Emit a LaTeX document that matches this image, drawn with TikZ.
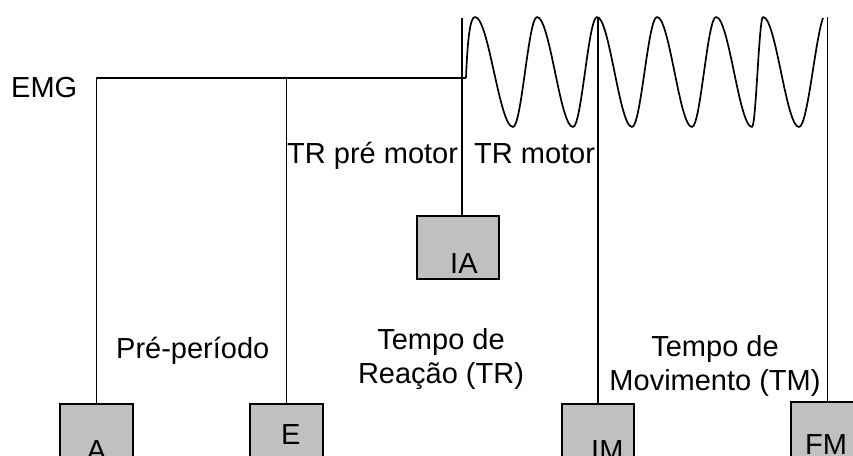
\documentclass[tikz,border=0pt]{standalone}
\usepackage{fontspec}
\setmainfont{Liberation Sans}
\definecolor{boxgray}{HTML}{C0C0C0}
\begin{document}
\begin{tikzpicture}[x=1pt,y=-1pt,
  ln/.style={line width=1.7pt, line join=round},
  box/.style={draw, line width=1.7pt, fill=boxgray, minimum width=73pt, minimum height=63pt, inner sep=0pt, anchor=north},
  lbl/.style={inner sep=0pt, font=\fontsize{29}{33.5}\selectfont},
]
\useasboundingbox (0,0) rectangle (853,455);
\clip (0,0) rectangle (853,455);
% coordinates
\coordinate (emgA) at (96,78);
\coordinate (emgEnd) at (466,78);
\coordinate (topIA) at (462,18);
\coordinate (topIM) at (597,17);
\coordinate (topFM) at (827,17);
% boxes
\node[box] (A) at (96.5,403) {};
\node[box] (E) at (286.5,403) {};
\node[box, minimum width=82pt] (IA) at (458,215) {};
\node[box, minimum width=72pt] (IM) at (598,403) {};
\node[box] (FM) at (827.5,401) {};
% connectors
\draw[ln] (A.north) -- (A.north |- emgA) -- (emgEnd);
\draw[ln] (E.north) -- (E.north |- emgA);
\draw[ln] (topIA |- IA.north) -- (topIA);
\draw[ln] (IM.north) -- (IM.north |- topIM);
\draw[ln] (FM.north) -- (FM.north |- topFM);
% EMG wave
\draw[ln] (emgEnd) .. controls (467.5,40) and (470,17) .. (475,17)
  .. controls (488.7,17) and (499.3,127) .. (513,127)
  .. controls (521.6,127) and (528.4,17) .. (537,17)
  .. controls (550,17) and (560,127) .. (573,127)
  .. controls (581.6,127) and (588.4,17) .. (597,17)
  .. controls (609.6,17) and (619.4,127) .. (632,127)
  .. controls (641,127) and (648,17) .. (657,17)
  .. controls (669.6,17) and (679.4,127) .. (692,127)
  .. controls (700.6,127) and (707.4,17) .. (716,17)
  .. controls (729,17) and (739,127) .. (752,127)
  .. controls (756,127) and (759,17) .. (763,17)
  .. controls (776,17) and (786,127) .. (799,127)
  .. controls (807.6,127) and (815,40) .. (823,18);
% labels
\node[lbl, anchor=base west] (emg) at (11,97) {EMG};
\node[lbl, anchor=base west] (trpm) at (287,163) {TR pré motor};
\node[lbl, anchor=base west] (trm) at (474,163) {TR motor};
\node[lbl, anchor=base west] (pre) at (116,358) {Pré-período};
\node[lbl, align=center, anchor=base] (tr) at (441,383) {Tempo de\\Reação (TR)};
\node[lbl, align=center, anchor=base] (tm) at (715,390) {Tempo de\\Movimento (TM)};
\node[lbl, anchor=base west] (tIA) at (450,273) {IA};
\node[lbl, anchor=base west] (tE) at (281,444) {E};
\node[lbl, anchor=base] (tA) at (96.5,460) {A};
\node[lbl, anchor=base west] (tIM) at (591,460) {IM};
\node[lbl, anchor=base west] (tFM) at (805,454) {FM};
\end{tikzpicture}
\end{document}
